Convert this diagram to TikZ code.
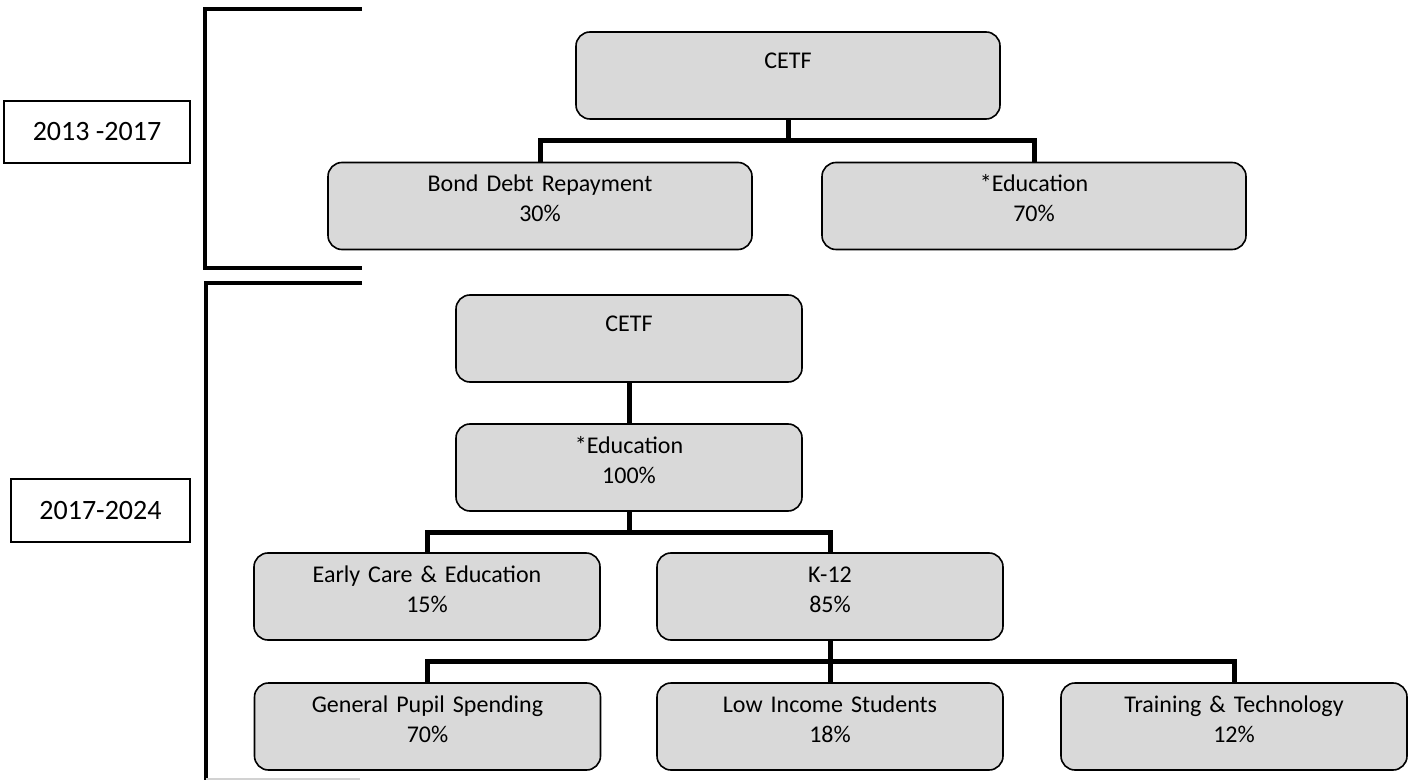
\documentclass[tikz,border=0pt]{standalone}
\usepackage{fontspec}
\setmainfont{Carlito}
\begin{document}
\begin{tikzpicture}[x=0.5pt, y=-0.5pt, line join=miter,
    fundbox/.style={draw=black, line width=0.8pt, fill=fundgray, rounded corners=7pt,
      inner sep=0pt, align=center, font=\fontsize{12pt}{15pt}\selectfont},
    twoline/.style={text height=14.5pt, text depth=29pt},
    oneline/.style={text height=18.5pt, text depth=25pt},
    wide/.style={text width=212pt},
    narrow/.style={text width=173pt},
    yearbox/.style={draw=black, line width=0.8pt, inner sep=0pt,
      font=\fontsize{14pt}{17pt}\selectfont},
    link/.style={line width=2.5pt},
    bracket/.style={line width=1.8pt}]
  \definecolor{fundgray}{RGB}{217,217,217}
  \useasboundingbox (0,0) rectangle (1413,780);
  % period labels
  \node[yearbox, minimum width=93pt, minimum height=31pt] (yearA) at (97,132) {2013 -2017};
  \node[yearbox, minimum width=89.5pt, minimum height=31.5pt] (yearB) at (100.5,510.5) {2017-2024};
  % brackets
  \draw[bracket] (362,9) -- (205,9) -- (205,268) -- (362,268);
  \draw[bracket] (362,283) -- (206,283) -- (206,780);
  \draw[gray!35, line width=1pt] (206,779) -- (360,779);
  % 2013 - 2017
  \node[fundbox, wide, oneline] (cetfA) at (788,75.5) {CETF};
  \node[fundbox, wide, twoline] (bond) at (540,206) {Bond Debt Repayment\\30\%};
  \node[fundbox, wide, twoline] (eduA) at (1034,206) {*Education\\70\%};
  \coordinate (jA) at (788,141);
  \draw[link] (cetfA.south) -- (jA);
  \draw[link] (bond.north) |- (jA) -| (eduA.north);
  % 2017 - 2024
  \node[fundbox, narrow, oneline] (cetfB) at (629,338.5) {CETF};
  \node[fundbox, narrow, twoline] (eduB) at (629,467.5) {*Education\\100\%};
  \node[fundbox, narrow, twoline] (early) at (427,596.5) {Early Care \& Education\\15\%};
  \node[fundbox, narrow, twoline] (k12) at (830,596.5) {K-12\\85\%};
  \node[fundbox, narrow, twoline] (general) at (427.5,726.5) {General Pupil Spending\\70\%};
  \node[fundbox, narrow, twoline] (low) at (830,726.5) {Low Income Students\\18\%};
  \node[fundbox, narrow, twoline] (train) at (1234,726.5) {Training \& Technology\\12\%};
  \coordinate (jB) at (629,532);
  \coordinate (jC) at (830,661);
  \draw[link] (cetfB.south) -- (eduB.north);
  \draw[link] (eduB.south) -- (jB);
  \draw[link] (early.north) |- (jB) -| (k12.north);
  \draw[link] (k12.south) -- (low.north);
  \draw[link] (general.north) |- (jC) -| (train.north);
\end{tikzpicture}
\end{document}
